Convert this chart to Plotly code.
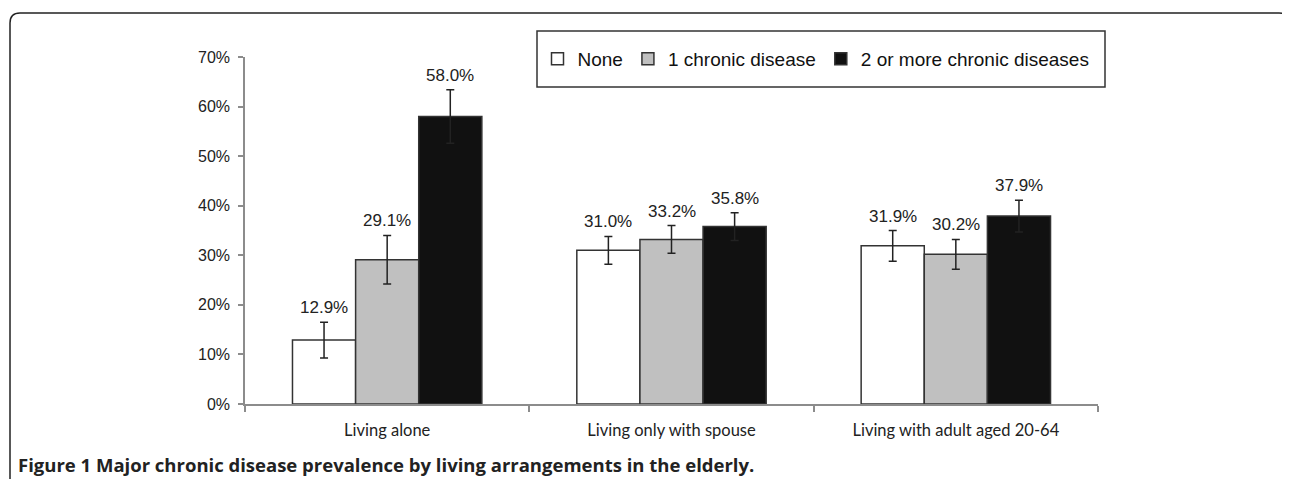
import plotly.graph_objects as go

categories = ["Living alone", "Living only with spouse", "Living with adult aged 20-64"]
series_names = ["None", "1 chronic disease", "2 or more chronic diseases"]
none_vals = [12.9, 31.0, 31.9]
one_vals = [29.1, 33.2, 30.2]
two_vals = [58.0, 35.8, 37.9]
none_err = [3.6, 2.8, 3.1]
one_err = [4.9, 2.8, 3.0]
two_err = [5.4, 2.8, 3.2]
y_ticks = [0, 10, 20, 30, 40, 50, 60, 70]
y_tick_text = ["0%", "10%", "20%", "30%", "40%", "50%", "60%", "70%"]
caption_bold = "Figure 1"
caption_text = "Major chronic disease prevalence by living arrangements in the elderly."

OFF = 8  # page body margin
W, H = 1290 - OFF, 479 - OFF
# plot area bounds in page pixels
PL, PR, PT, PB = 245, 1098, 57, 404
L, R, T, B = PL - OFF, PR - OFF, PT - OFF, PB - OFF

def px_to_paper_x(px):
    return (px - OFF - L) / (R - L)

def px_to_paper_y(py):
    return 1 - (py - OFF - T) / (B - T)

fills = ["#ffffff", "#c0c0c0", "#111111"]
values = [none_vals, one_vals, two_vals]
errors = [none_err, one_err, two_err]

bargap = 0.334
fig = go.Figure()
for name, vals, errs, col in zip(series_names, values, errors, fills):
    fig.add_trace(go.Bar(
        x=categories, y=vals, name=name,
        marker=dict(color=col, line=dict(color="#333333", width=1.5)),
        error_y=dict(type="data", array=errs, visible=True, color="#222222",
                     thickness=1.5, width=4),
        hoverinfo="skip",
    ))

# value labels above error bars
bw = (1 - bargap) / len(series_names)
annotations = []
for si, (vals, errs) in enumerate(zip(values, errors)):
    off = (si - (len(series_names) - 1) / 2) * bw
    for ci, (v, e) in enumerate(zip(vals, errs)):
        annotations.append(dict(
            x=ci + off, y=v + e, xref="x", yref="y",
            text=f"{v:.1f}%", showarrow=False, yanchor="bottom", yshift=3,
            font=dict(family="Liberation Sans, Arial", size=17, color="#222222"),
        ))

annotations.append(dict(
    x=px_to_paper_x(16), y=px_to_paper_y(464), xref="paper", yref="paper",
    xanchor="left", yanchor="middle", showarrow=False,
    text=f"<b>{caption_bold}</b> <b>{caption_text}</b>",
    font=dict(family="Open Sans", size=18.5, color="#222222"),
))

# outer frame (rounded top-left corner) and legend box
x0 = px_to_paper_x(10)
yt = px_to_paper_y(13)
yb = px_to_paper_y(495)
rx = 10 / (R - L)
ry = 10 / (B - T)
xr = px_to_paper_x(1289)
frame_path = (f"M {x0},{yb} L {x0},{yt - ry} Q {x0},{yt} {x0 + rx},{yt} "
              f"L {xr - rx},{yt} Q {xr},{yt} {xr},{yt - ry}")
shapes = [
    dict(type="path", xref="paper", yref="paper", path=frame_path,
         line=dict(color="#222222", width=1.5)),
    dict(type="rect", xref="paper", yref="paper",
         x0=px_to_paper_x(537), x1=px_to_paper_x(1105),
         y0=px_to_paper_y(87), y1=px_to_paper_y(31),
         line=dict(color="#333333", width=1.5), fillcolor="rgba(0,0,0,0)"),
]

fig.update_layout(
    width=W, height=H,
    margin=dict(l=L, r=W - R, t=T, b=H - B),
    paper_bgcolor="white", plot_bgcolor="white",
    barmode="group", bargap=bargap, bargroupgap=0,
    showlegend=True,
    legend=dict(orientation="h", x=px_to_paper_x(816), xanchor="center",
                y=px_to_paper_y(59), yanchor="middle",
                font=dict(family="Liberation Sans, Arial", size=19, color="#111111"),
                bgcolor="rgba(0,0,0,0)", borderwidth=0, traceorder="normal",
                itemwidth=30),
    xaxis=dict(showline=True, linecolor="#8c8c8c", linewidth=1.5,
               ticks="outside", tickson="boundaries", ticklen=6, tickcolor="#8c8c8c",
               tickwidth=1.5, showgrid=False, ticklabelstandoff=10,
               tickfont=dict(family="Lato", size=16.5, color="#222222")),
    yaxis=dict(range=[0, 70], tickmode="array", tickvals=y_ticks, ticktext=y_tick_text,
               showline=True, linecolor="#8c8c8c", linewidth=1.5,
               ticks="outside", ticklen=5, tickcolor="#8c8c8c", tickwidth=1.5,
               showgrid=False, zeroline=False, ticklabelstandoff=5,
               tickfont=dict(family="Liberation Sans, Arial", size=16, color="#222222")),
    annotations=annotations,
    shapes=shapes,
)

fig.write_html("out.html")
